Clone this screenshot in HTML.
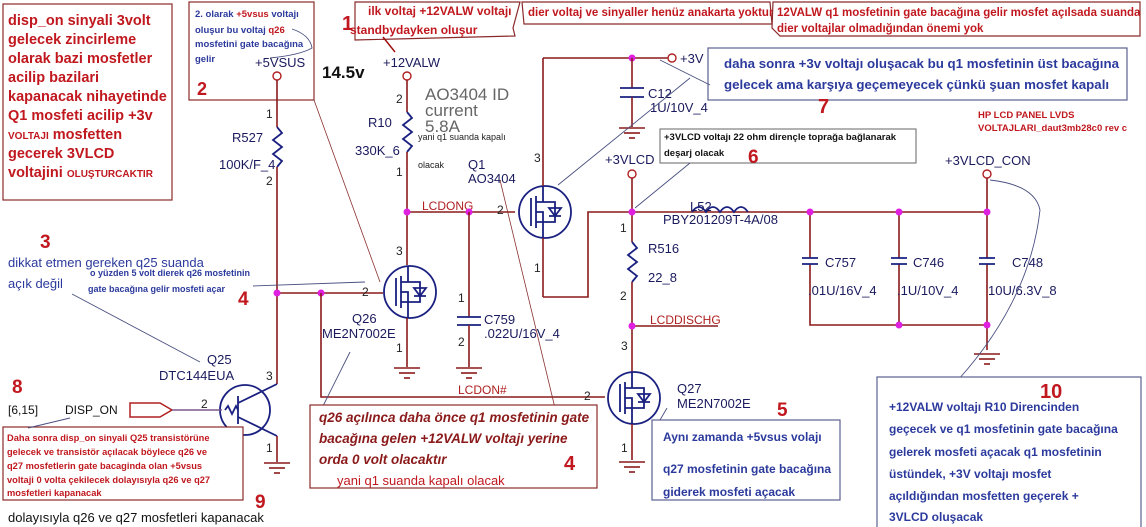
<!DOCTYPE html>
<html><head><meta charset="utf-8"><style>
body{margin:0;background:#fff}
svg{display:block}
text{font-family:"Liberation Sans",sans-serif}
.r{fill:#c0181e;font-weight:bold}
.b{fill:#2b3a9c;font-weight:bold}
.lbl{fill:#1a1a5e;font-size:13px}
.w{stroke:#8b1a1a;stroke-width:1.6;fill:none}
.c{stroke:#1a2080;stroke-width:1.8;fill:none}
.bx{stroke:#8b2a2a;stroke-width:1.2;fill:#fff}
.bb{stroke:#5a6190;stroke-width:1.2;fill:#fff}
.ld{stroke:#4a5080;stroke-width:0.9;fill:none}
.dot{fill:#e020e0}
.pin{fill:#222;font-size:12px}
</style></head><body>
<svg width="1146" height="527" viewBox="0 0 1146 527" xmlns="http://www.w3.org/2000/svg">
<defs>
<g id="gnd"><line x1="-13" y1="0" x2="13" y2="0" class="w"/><line x1="-8" y1="5" x2="8" y2="5" class="w"/><line x1="-3" y1="10" x2="3" y2="10" class="w"/></g>
<g id="fet"><circle cx="0" cy="0" r="26" class="c"/><line x1="-14" y1="-14" x2="-14" y2="14" class="c"/><line x1="-9" y1="-16" x2="-9" y2="16" class="c"/><path d="M-9 -10 H-2 V-26 M-9 10 H-2 V26 M-9 0 H-2 V10 M-2 -10 H10 V10 H-2" class="c"/><path d="M4 -4 L16 -4 L10 4 Z M4 4 H16" class="c"/></g>
</defs>

<!-- Box A -->
<rect x="3" y="4" width="169" height="196" class="bx"/>
<g class="r" font-size="14.5">
<text x="8" y="25">disp_on sinyali 3volt</text>
<text x="8" y="44">gelecek zincirleme</text>
<text x="8" y="63">olarak bazi mosfetler</text>
<text x="8" y="82">acilip bazilari</text>
<text x="8" y="101">kapanacak nihayetinde</text>
<text x="8" y="120">Q1 mosfeti acilip +3v</text>
<text x="8" y="139"><tspan font-size="10">VOLTAJI</tspan>  mosfetten</text>
<text x="8" y="158">gecerek  3VLCD</text>
<text x="8" y="177">voltajini  <tspan font-size="10">OLUŞTURCAKTIR</tspan></text>
</g>

<!-- Box 2 -->
<rect x="189" y="2" width="125" height="98" class="bx"/>
<g class="b" font-size="9.5">
<text x="195" y="17">2. olarak <tspan fill="#c0181e">+5vsus</tspan> voltajı</text>
<text x="195" y="33">oluşur bu voltaj <tspan fill="#c0181e">q26</tspan></text>
<text x="195" y="47">mosfetini gate bacağına</text>
<text x="195" y="62">gelir</text>
</g>
<path d="M292 29 Q310 35 312 48 Q300 55 270 58" class="ld"/>
<text x="197" y="95" class="r" font-size="18">2</text>
<text x="255" y="67" class="lbl" font-size="12">+5VSUS</text>
<text x="322" y="78" font-size="17" font-weight="bold" fill="#111">14.5v</text>

<!-- Box 1 and top boxes -->
<path d="M355 2 H520 L513 28 L515 36 L355 40 Z" class="bx"/>
<text x="368" y="15" class="r" font-size="12">ilk voltaj +12VALW  voltajı</text>
<text x="350" y="34" class="r" font-size="12">standbydayken oluşur</text>
<text x="342" y="30" class="r" font-size="20">1</text>
<line x1="383" y1="37" x2="395" y2="52" stroke="#a01010" stroke-width="1.5"/>
<path d="M522 2 H770 L772 24 H524 Z" class="bx"/>
<text x="528" y="16" class="r" font-size="11.5">dier voltaj ve sinyaller henüz anakarta yoktur</text>
<path d="M773 2 H1140 L1140 36 H780 L772 28 Z" class="bx"/>
<text x="777" y="16" class="r" font-size="11.5">12VALW q1 mosfetinin gate bacağına gelir mosfet açılsada suanda</text>
<text x="777" y="32" class="r" font-size="11.5">dier voltajlar olmadığından önemi yok</text>

<!-- Box 7 -->
<rect x="708" y="48" width="419" height="52" class="bb"/>
<text x="724" y="68" class="b" font-size="13.3">daha sonra +3v voltajı oluşacak bu q1 mosfetinin üst bacağına</text>
<text x="724" y="89" class="b" font-size="13.3">gelecek ama karşıya geçemeyecek çünkü şuan mosfet kapalı</text>
<text x="818" y="113" class="r" font-size="20">7</text>
<text x="978" y="118" class="r" font-size="9.5">HP LCD PANEL LVDS</text>
<text x="978" y="131" class="r" font-size="9.5">VOLTAJLARI_daut3mb28c0 rev c</text>

<!-- Box 6 -->
<rect x="660" y="129" width="256" height="34" fill="#fff" stroke="#666" stroke-width="1"/>
<text x="664" y="140" font-size="9.5" font-weight="bold" fill="#111">+3VLCD voltajı 22 ohm dirençle toprağa bağlanarak</text>
<text x="664" y="156" font-size="9.5" font-weight="bold" fill="#111">deşarj olacak</text>
<text x="748" y="163" class="r" font-size="19">6</text>

<!-- 5VSUS rail -->
<circle cx="277" cy="76" r="4" fill="none" stroke="#b02020" stroke-width="1.4"/>
<line x1="277" y1="80" x2="277" y2="127" class="w"/>
<path d="M277 127 L282 133 L273 140 L282 147 L273 154 L282 161 L277 167" class="c"/>
<line x1="277" y1="167" x2="277" y2="384" class="w"/>
<text x="266" y="118" class="pin">1</text><text x="266" y="185" class="pin">2</text>
<text x="232" y="142" class="lbl">R527</text>
<text x="219" y="169" class="lbl">100K/F_4</text>

<!-- 12VALW -->
<text x="383" y="67" class="lbl" font-size="12">+12VALW</text>
<circle cx="407" cy="76" r="4" fill="none" stroke="#b02020" stroke-width="1.4"/>
<line x1="407" y1="80" x2="407" y2="112" class="w"/>
<path d="M407 112 L412 118 L403 125 L412 132 L403 139 L412 146 L407 152" class="c"/>
<line x1="407" y1="152" x2="407" y2="265" class="w"/>
<text x="396" y="103" class="pin">2</text><text x="396" y="176" class="pin">1</text>
<text x="368" y="127" class="lbl">R10</text>
<text x="355" y="155" class="lbl">330K_6</text>
<text x="425" y="100" font-family="Liberation Mono" font-size="17" fill="#666">AO3404  ID</text>
<text x="425" y="116" font-family="Liberation Mono" font-size="17" fill="#666">current</text>
<text x="425" y="132" font-family="Liberation Mono" font-size="17" fill="#666">5.8A</text>
<text x="418" y="140" font-size="9" fill="#222">yani q1 suanda kapalı</text>
<text x="418" y="168" font-size="9" fill="#222">olacak</text>
<text x="468" y="169" class="lbl">Q1</text>
<text x="468" y="183" class="lbl">AO3404</text>

<!-- LCDONG -->
<line x1="407" y1="212" x2="515" y2="212" class="w"/>
<text x="422" y="210" fill="#b02020" font-size="12">LCDONG</text>
<circle cx="407" cy="212" r="3.5" class="dot"/><circle cx="469" cy="212" r="3.5" class="dot"/>
<text x="497" y="214" class="pin">2</text>
<use href="#fet" x="545" y="212"/>
<line x1="543" y1="186" x2="543" y2="58" class="w"/>
<line x1="543" y1="58" x2="668" y2="58" class="w"/>
<circle cx="672" cy="58" r="4" fill="none" stroke="#b02020" stroke-width="1.4"/>
<text x="680" y="63" class="lbl" font-size="12">+3V</text>
<circle cx="632" cy="58" r="3.5" class="dot"/>
<text x="534" y="162" class="pin">3</text><text x="534" y="272" class="pin">1</text>
<line x1="543" y1="238" x2="543" y2="297" class="w"/>
<path d="M543 297 H588 V212 H990" class="w"/>

<!-- C12 -->
<line x1="632" y1="58" x2="632" y2="88" class="w"/>
<line x1="620" y1="88" x2="644" y2="88" class="c"/><line x1="620" y1="97" x2="644" y2="97" class="c"/>
<line x1="632" y1="97" x2="632" y2="127" class="w"/>
<use href="#gnd" x="632" y="128"/>
<text x="648" y="98" class="lbl">C12</text>
<text x="650" y="112" class="lbl" font-size="12">1U/10V_4</text>

<!-- 3VLCD -->
<text x="605" y="164" class="lbl" font-size="12">+3VLCD</text>
<circle cx="632" cy="174" r="4" fill="none" stroke="#b02020" stroke-width="1.4"/>
<line x1="632" y1="178" x2="632" y2="242" class="w"/>
<circle cx="632" cy="212" r="3.5" class="dot"/>
<path d="M692 212 q7 -10 14 0 q7 -10 14 0 q7 -10 14 0 q7 -10 14 0" class="c"/>
<text x="690" y="211" class="lbl">L52</text>
<text x="663" y="224" class="lbl">PBY201209T-4A/08</text>
<path d="M632 242 L637 248 L628 255 L637 262 L628 269 L637 276 L632 282" class="c"/>
<line x1="632" y1="282" x2="632" y2="372" class="w"/>
<text x="620" y="232" class="pin">1</text><text x="620" y="300" class="pin">2</text>
<text x="648" y="253" class="lbl">R516</text>
<text x="648" y="282" class="lbl">22_8</text>
<line x1="632" y1="326" x2="718" y2="326" class="w"/>
<text x="650" y="324" fill="#b02020" font-size="12">LCDDISCHG</text>
<circle cx="632" cy="326" r="3.5" class="dot"/>

<!-- right caps -->
<text x="945" y="165" class="lbl" font-size="12">+3VLCD_CON</text>
<circle cx="987" cy="174" r="4" fill="none" stroke="#b02020" stroke-width="1.4"/>
<line x1="987" y1="178" x2="987" y2="212" class="w"/>
<path d="M810 212 V258 M810 264 V325 H987 M899 212 V258 M899 264 V325 M987 212 V258 M987 264 V350" class="w"/>
<g class="c"><path d="M802 258 H818 M802 264 H818 M891 258 H907 M891 264 H907 M979 258 H995 M979 264 H995"/></g>
<circle cx="810" cy="212" r="3.5" class="dot"/><circle cx="899" cy="212" r="3.5" class="dot"/><circle cx="987" cy="212" r="3.5" class="dot"/>
<circle cx="899" cy="325" r="3.5" class="dot"/><circle cx="987" cy="325" r="3.5" class="dot"/>
<use href="#gnd" x="987" y="354"/>
<text x="825" y="267" class="lbl">C757</text><text x="913" y="267" class="lbl">C746</text><text x="1012" y="267" class="lbl">C748</text>
<text x="808" y="295" class="lbl" font-size="12">.01U/16V_4</text>
<text x="897" y="295" class="lbl" font-size="12">.1U/10V_4</text>
<text x="988" y="295" class="lbl" font-size="12">10U/6.3V_8</text>

<!-- Q26 -->
<line x1="277" y1="293" x2="383" y2="293" class="w"/>
<circle cx="277" cy="293" r="3.5" class="dot"/><circle cx="321" cy="293" r="3.5" class="dot"/>
<text x="362" y="296" class="pin">2</text>
<use href="#fet" x="410" y="292"/>
<line x1="407" y1="318" x2="407" y2="367" class="w"/>
<use href="#gnd" x="407" y="368"/>
<text x="396" y="255" class="pin">3</text><text x="396" y="352" class="pin">1</text>
<text x="352" y="323" class="lbl">Q26</text>
<text x="322" y="338" class="lbl">ME2N7002E</text>
<path d="M321 293 V397 H605" class="w"/>
<text x="458" y="394" fill="#b02020" font-size="12">LCDON#</text>

<!-- C759 -->
<line x1="469" y1="212" x2="469" y2="317" class="w"/>
<path d="M457 317 H481 M457 325 H481" class="c"/>
<line x1="469" y1="325" x2="469" y2="367" class="w"/>
<use href="#gnd" x="469" y="368"/>
<text x="458" y="302" class="pin">1</text><text x="458" y="346" class="pin">2</text>
<text x="484" y="324" class="lbl">C759</text>
<text x="484" y="338" class="lbl">.022U/16V_4</text>

<!-- Q27 -->
<text x="584" y="400" class="pin">2</text>
<use href="#fet" x="634" y="398"/>
<line x1="632" y1="424" x2="632" y2="460" class="w"/>
<use href="#gnd" x="632" y="462"/>
<text x="621" y="350" class="pin">3</text><text x="621" y="452" class="pin">1</text>
<text x="677" y="393" class="lbl">Q27</text>
<text x="677" y="408" class="lbl">ME2N7002E</text>

<!-- Q25 -->
<circle cx="245" cy="410" r="25" class="c"/>
<line x1="238" y1="396" x2="238" y2="424" class="c"/>
<path d="M238 403 L277 384 M238 417 L277 436" class="c"/>
<path d="M225 410 l3 -4 l4 8 l4 -8 l2 4" class="c"/>
<line x1="277" y1="436" x2="277" y2="462" class="w"/>
<use href="#gnd" x="277" y="463"/>
<text x="266" y="380" class="pin">3</text><text x="266" y="452" class="pin">1</text>
<text x="207" y="364" class="lbl">Q25</text>
<text x="159" y="380" class="lbl">DTC144EUA</text>
<text x="8" y="414" font-size="12" fill="#111">[6,15]</text>
<text x="65" y="414" font-size="12" fill="#111">DISP_ON</text>
<path d="M130 403 H160 L172 410 L160 417 H130 Z" fill="none" stroke="#b02020" stroke-width="1.5"/>
<line x1="172" y1="410" x2="222" y2="410" stroke="#7a5a8a" stroke-width="1.5"/>
<text x="201" y="408" class="pin">2</text>

<!-- text 3 -->
<text x="40" y="248" class="r" font-size="19">3</text>
<text x="8" y="267" fill="#2b3a9c" font-size="13">dikkat etmen gereken q25 suanda</text>
<text x="8" y="288" fill="#2b3a9c" font-size="13">açık değil</text>
<text x="90" y="276" class="b" font-size="9">o yüzden  5 volt dierek q26 mosfetinin</text>
<text x="88" y="292" class="b" font-size="9">gate bacağına gelir mosfeti açar</text>
<text x="238" y="305" class="r" font-size="19">4</text>
<line x1="253" y1="286" x2="365" y2="282" class="ld"/>
<line x1="72" y1="294" x2="200" y2="362" class="ld"/>

<!-- leader lines -->
<line x1="314" y1="100" x2="380" y2="282" stroke="#8b3030" stroke-width="0.8"/>
<line x1="500" y1="180" x2="555" y2="408" stroke="#8b3030" stroke-width="0.8"/>
<line x1="558" y1="185" x2="690" y2="78" class="ld"/>
<line x1="660" y1="60" x2="710" y2="85" class="ld"/>
<line x1="635" y1="208" x2="690" y2="163" class="ld"/>
<path d="M990 180 Q1035 185 1040 210 Q1030 300 958 380" class="ld"/>
<line x1="667" y1="408" x2="653" y2="432" class="ld"/>
<line x1="350" y1="352" x2="322" y2="408" class="ld"/>

<!-- Box q26 -->
<rect x="310" y="405" width="287" height="83" class="bx"/>
<g fill="#8b1a1a" font-weight="bold" font-style="italic" font-size="13.5">
<text x="319" y="422">q26 açılınca daha önce q1 mosfetinin gate</text>
<text x="319" y="443">bacağına gelen +12VALW voltajı yerine</text>
<text x="319" y="464">orda 0 volt olacaktır</text>
</g>
<text x="337" y="485" fill="#c0181e" font-size="13">yani q1 suanda kapalı olacak</text>
<text x="564" y="470" class="r" font-size="20">4</text>

<!-- Box 8/9 -->
<text x="12" y="393" class="r" font-size="19">8</text>
<rect x="3" y="427" width="240" height="73" class="bx"/>
<g class="r" font-size="9.3">
<text x="7" y="441">Daha sonra disp_on sinyali Q25 transistörüne</text>
<text x="7" y="455">gelecek ve transistör açılacak böylece q26 ve</text>
<text x="7" y="469">q27 mosfetlerin gate bacaginda olan +5vsus</text>
<text x="7" y="483">voltaji 0 volta çekilecek dolayısıyla q26 ve q27</text>
<text x="7" y="496">mosfetleri kapanacak</text>
</g>
<line x1="28" y1="428" x2="70" y2="418" class="ld"/>
<text x="255" y="508" class="r" font-size="19">9</text>
<text x="8" y="522" font-size="13" fill="#111">dolayısıyla q26 ve q27 mosfetleri kapanacak</text>

<!-- Box 5 -->
<text x="777" y="416" class="r" font-size="19">5</text>
<rect x="652" y="420" width="188" height="80" class="bb"/>
<text x="663" y="441" class="b" font-size="12">Aynı zamanda +5vsus volajı</text>
<text x="663" y="473" class="b" font-size="12">q27 mosfetinin gate bacağına</text>
<text x="663" y="496" class="b" font-size="12">giderek mosfeti açacak</text>

<!-- Box 10 -->
<rect x="877" y="377" width="264" height="152" class="bb"/>
<text x="1040" y="398" class="r" font-size="20">10</text>
<g class="b" font-size="12">
<text x="889" y="411">+12VALW voltajı R10 Direncinden</text>
<text x="889" y="433">geçecek ve q1 mosfetinin gate bacağına</text>
<text x="889" y="456">gelerek mosfeti açacak  q1 mosfetinin</text>
<text x="889" y="478">üstündek, +3V voltajı mosfet</text>
<text x="889" y="500">açıldığından mosfetten geçerek  +</text>
<text x="889" y="521">3VLCD oluşacak</text>
</g>
</svg>
</body></html>
